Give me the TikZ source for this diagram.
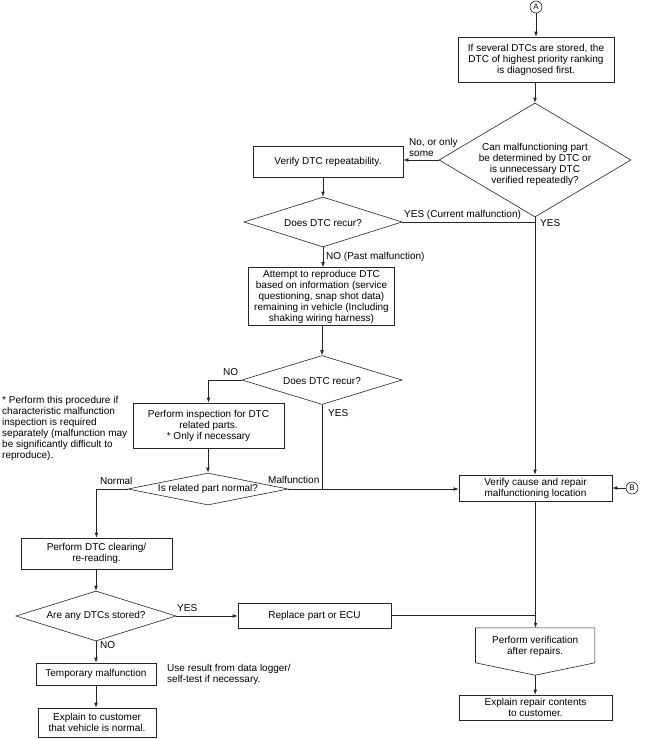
\documentclass[tikz,border=0pt]{standalone}
\usepackage{fontspec}
\setmainfont{Liberation Sans}
\usetikzlibrary{arrows.meta,shapes.geometric,calc}
\begin{document}
\begin{tikzpicture}[x=1pt,y=-1pt,
  font=\fontsize{10}{11}\selectfont,
  ln/.style={draw=black!85,line width=0.6pt},
  arr/.style={ln,-{Latex[length=5pt,width=3.6pt]}},
  box/.style={draw=black!85,line width=0.6pt,rectangle,inner sep=0pt,align=center},
  dia/.style={draw=black!85,line width=0.6pt,diamond,inner sep=0pt},
  txt/.style={inner sep=0pt,align=center},
  lbl/.style={inner sep=0pt,anchor=west,align=left},
  circ/.style={draw=black!85,line width=0.6pt,circle,inner sep=0pt,minimum size=12pt,font=\fontsize{8}{9}\selectfont}]
\fill[white] (0,0) rectangle (648,739);
\useasboundingbox (0,0) rectangle (648,739);

% nodes
\node[circ] (A) at (536,7) {A};
\node[box,minimum width=156pt,minimum height=45pt] (b1) at (536,59.5) {If several DTCs are stored, the\\DTC of highest priority ranking\\is diagnosed first.};
\node[dia,minimum width=192pt,minimum height=114pt] (d1) at (535,160) {};
\node[txt] (d1t) at (535,164) {Can malfunctioning part\\be determined by DTC or\\is unnecessary DTC\\verified repeatedly?};
\node[box,minimum width=150pt,minimum height=31pt] (vr) at (328,161.5) {Verify DTC repeatability.};
\node[dia,minimum width=158pt,minimum height=50pt] (d2) at (323,222) {};
\node[txt] (d2t) at (323,223) {Does DTC recur?};
\node[box,minimum width=146pt,minimum height=58pt] (b3) at (321.5,296.5) {Attempt to reproduce DTC\\based on information (service\\questioning, snap shot data)\\remaining in vehicle (Including\\shaking wiring harness)};
\node[dia,minimum width=160pt,minimum height=49pt] (d3) at (322,380) {};
\node[txt] (d3t) at (322,381) {Does DTC recur?};
\node[box,minimum width=151pt,minimum height=45pt] (b4) at (208.5,425.5) {Perform inspection for DTC\\related parts.\\* Only if necessary};
\node[dia,minimum width=160pt,minimum height=32pt] (d4) at (208,489) {};
\node[txt] (d4t) at (208,489) {Is related part normal?};
\node[box,minimum width=153pt,minimum height=26pt] (vc) at (535.5,488) {Verify cause and repair\\malfunctioning location};
\node[circ] (B) at (632,488) {B};
\node[box,minimum width=151pt,minimum height=31pt] (b5) at (96.5,553.5) {Perform DTC clearing/\\re-reading.};
\node[dia,minimum width=160pt,minimum height=50pt] (d5) at (96,616) {};
\node[txt] (d5t) at (96,616) {Are any DTCs stored?};
\node[box,minimum width=153pt,minimum height=25pt] (rp) at (314.5,615.5) {Replace part or ECU};
\node[minimum width=119pt,minimum height=47pt,inner sep=0pt] (pv) at (535.2,651.5) {};
\draw[ln,line join=miter] (pv.north west) -- (pv.north east) -- ($(pv.north east)+(0,35)$) -- (pv.south) -- ($(pv.north west)+(0,35)$) -- cycle;
\node[txt] (pvt) at (535.2,646) {Perform verification\\after repairs.};
\node[box,minimum width=153pt,minimum height=25pt] (er) at (535.5,707.5) {Explain repair contents\\to customer.};
\node[box,minimum width=120pt,minimum height=22pt] (tm) at (96,674) {Temporary malfunction};
\node[box,minimum width=118pt,minimum height=29pt] (ec) at (97,722.5) {Explain to customer\\that vehicle is normal.};

% labels
\node[lbl] (l1) at (409,147.5) {No, or only\\some};
\node[lbl] (l2) at (404,215) {YES (Current malfunction)};
\node[lbl] (l3) at (540,223) {YES};
\node[lbl] (l4) at (326,257) {NO (Past malfunction)};
\node[lbl] (l5) at (223,372) {NO};
\node[lbl] (l6) at (328,413) {YES};
\node[lbl] (l7) at (100,481) {Normal};
\node[lbl] (l8) at (268,480) {Malfunction};
\node[lbl] (l9) at (177,608) {YES};
\node[lbl] (l10) at (100,645) {NO};
\node[lbl] (n1) at (2,428.5) {* Perform this procedure if\\characteristic malfunction\\inspection is required\\separately (malfunction may\\be significantly difficult to\\reproduce).};
\node[lbl] (n2) at (167,674) {Use result from data logger/\\self-test if necessary.};

% connectors
\draw[arr] (A.south) -- (A.south |- b1.north);
\draw[arr] (d1.north |- b1.south) -- (d1.north);
\draw[arr] (d1.west) -- (d1.west -| vr.east);
\draw[arr] (d2.north |- vr.south) -- (d2.north);
\draw[ln] (d2.east) -- (d1.south |- d2.east);
\draw[arr] (d1.south) -- (d1.south |- vc.north);
\draw[arr] (d2.south) -- (d2.south |- b3.north);
\draw[arr] (d3.north |- b3.south) -- (d3.north);
\draw[arr] (d3.west) -| (b4.north);
\draw[ln] (d3.south) -- (d3.south |- d4.east);
\draw[arr] (d4.east) -- (d4.east -| vc.west);
\draw[arr] (d4.north |- b4.south) -- (d4.north);
\draw[arr] (d4.west) -| (b5.north);
\draw[arr] (d5.north |- b5.south) -- (d5.north);
\draw[arr] (d5.east) -- (d5.east -| rp.west);
\draw[ln] (rp.east) -- (vc.south |- rp.east);
\draw[arr] (vc.south) -- (vc.south |- pv.north);
\draw[arr] (pv.south) -- (pv.south |- er.north);
\draw[arr] (d5.south) -- (d5.south |- tm.north);
\draw[arr] (tm.south) -- (tm.south |- ec.north);
\draw[arr] (B.west) -- (B.west -| vc.east);
\end{tikzpicture}
\end{document}
